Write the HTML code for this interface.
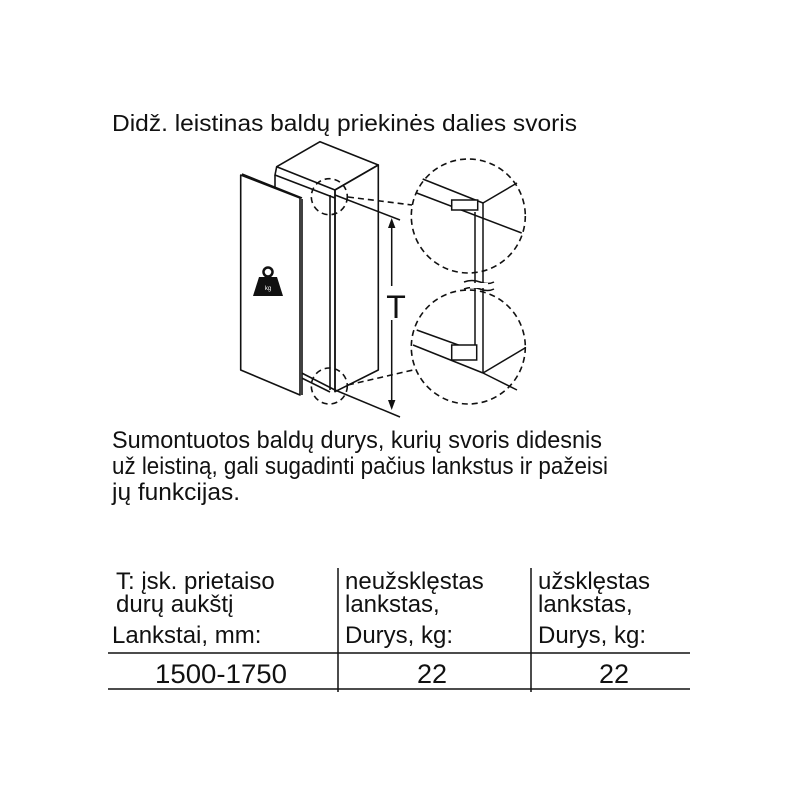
<!DOCTYPE html>
<html><head><meta charset="utf-8"><style>
html,body{margin:0;padding:0;background:#fff;}
svg{display:block;}
text{font-family:"Liberation Sans",Arial,sans-serif;fill:#111;}
</style></head><body>
<svg width="800" height="800" viewBox="0 0 800 800" xmlns="http://www.w3.org/2000/svg">
<text x="112" y="131" font-size="23" textLength="465" lengthAdjust="spacingAndGlyphs">Didž. leistinas baldų priekinės dalies svoris</text>

<g stroke="#111" stroke-width="1.6" fill="none" stroke-linejoin="round">
  <polygon points="276.7,166.7 320,141.7 378.3,165 335,190" fill="#fff"/>
  <polygon points="335,190 378.3,165 378.3,370 335,391.7" fill="#fff"/>
  <polyline points="276.7,166.7 275,175 335,198"/>
  <line x1="275" y1="175" x2="275" y2="200"/>
  <line x1="330" y1="195" x2="330" y2="390"/>
  <line x1="335" y1="190" x2="335" y2="391.7"/>
  <line x1="301.7" y1="373" x2="335" y2="390"/>
  <line x1="301.7" y1="378" x2="330" y2="392"/>
  <polygon points="240.7,175 300,198 300,395 240.7,370" fill="#fff"/>
  <line x1="302" y1="199" x2="302" y2="395"/>
  <line x1="242" y1="174" x2="302" y2="198"/>
</g>
<g fill="#111">
  <circle cx="268" cy="272" r="4.5" fill="none" stroke="#111" stroke-width="2.5"/>
  <path d="M259,277 L277,277 L283,296 L253,296 Z"/>
</g>
<text x="268" y="290" font-size="6" text-anchor="middle" style="fill:#fff">kg</text>

<g stroke="#111" stroke-width="1.6" fill="none" stroke-dasharray="6,4">
  <circle cx="329.3" cy="196.7" r="18"/>
  <circle cx="329.3" cy="386" r="18"/>
  <circle cx="468.3" cy="216" r="57"/>
  <circle cx="468.3" cy="347" r="57"/>
  <line x1="348" y1="197" x2="412" y2="205"/>
  <line x1="348" y1="385" x2="413" y2="370"/>
</g>
<g stroke="#111" stroke-width="1.5" fill="none">
  <line x1="335" y1="195" x2="400" y2="220"/>
  <line x1="335" y1="390" x2="400" y2="417"/>
  <line x1="391.7" y1="220" x2="391.7" y2="408"/>
</g>
<polygon points="391.7,218 388,228 395.4,228" fill="#111"/>
<polygon points="391.7,410 388,400 395.4,400" fill="#111"/>
<rect x="383" y="286" width="18" height="34" fill="#fff"/>
<text x="396" y="318" font-size="32" text-anchor="middle">T</text>

<g stroke="#111" stroke-width="1.5" fill="none">
  <line x1="422.7" y1="179" x2="483" y2="203"/>
  <line x1="483" y1="203" x2="517" y2="183"/>
  <line x1="416.7" y1="193" x2="521.7" y2="233"/>
  <line x1="475" y1="212" x2="475" y2="360"/>
  <line x1="483" y1="203" x2="483" y2="372"/>
  <rect x="451.7" y="200" width="26" height="10" fill="#fff"/>
  <line x1="416.7" y1="330" x2="475" y2="351"/>
  <line x1="413" y1="345" x2="483" y2="373"/>
  <line x1="483" y1="373" x2="517" y2="390"/>
  <line x1="483" y1="373" x2="525" y2="348"/>
  <rect x="451.7" y="345" width="25" height="15" fill="#fff"/>
  <path d="M464,282 q8,-3 16,0 t14,0" />
  <path d="M464,289 q8,-3 16,0 t14,0" />
</g>
<rect x="470" y="283" width="18" height="5" fill="#fff"/>

<text x="112" y="448" font-size="24" textLength="490" lengthAdjust="spacingAndGlyphs">Sumontuotos baldų durys, kurių svoris didesnis</text>
<text x="112" y="474" font-size="24" textLength="496" lengthAdjust="spacingAndGlyphs">už leistiną, gali sugadinti pačius lankstus ir pažeisi</text>
<text x="112" y="500" font-size="24" textLength="128" lengthAdjust="spacingAndGlyphs">jų funkcijas.</text>

<g font-size="24">
<text x="116" y="589">T: įsk. prietaiso</text>
<text x="116" y="612">durų aukštį</text>
<text x="112" y="643">Lankstai, mm:</text>
<text x="345" y="589">neužsklęstas</text>
<text x="345" y="612">lankstas,</text>
<text x="345" y="643">Durys, kg:</text>
<text x="538" y="589">užsklęstas</text>
<text x="538" y="612">lankstas,</text>
<text x="538" y="643">Durys, kg:</text>
</g>
<g font-size="27">
<text x="155" y="683" textLength="132" lengthAdjust="spacingAndGlyphs">1500-1750</text>
<text x="417" y="683">22</text>
<text x="599" y="683">22</text>
</g>
<g stroke="#111" stroke-width="1.5">
  <line x1="108" y1="653" x2="690" y2="653"/>
  <line x1="108" y1="689" x2="690" y2="689"/>
  <line x1="338" y1="568" x2="338" y2="692"/>
  <line x1="531" y1="568" x2="531" y2="692"/>
</g>
</svg>
</body></html>
